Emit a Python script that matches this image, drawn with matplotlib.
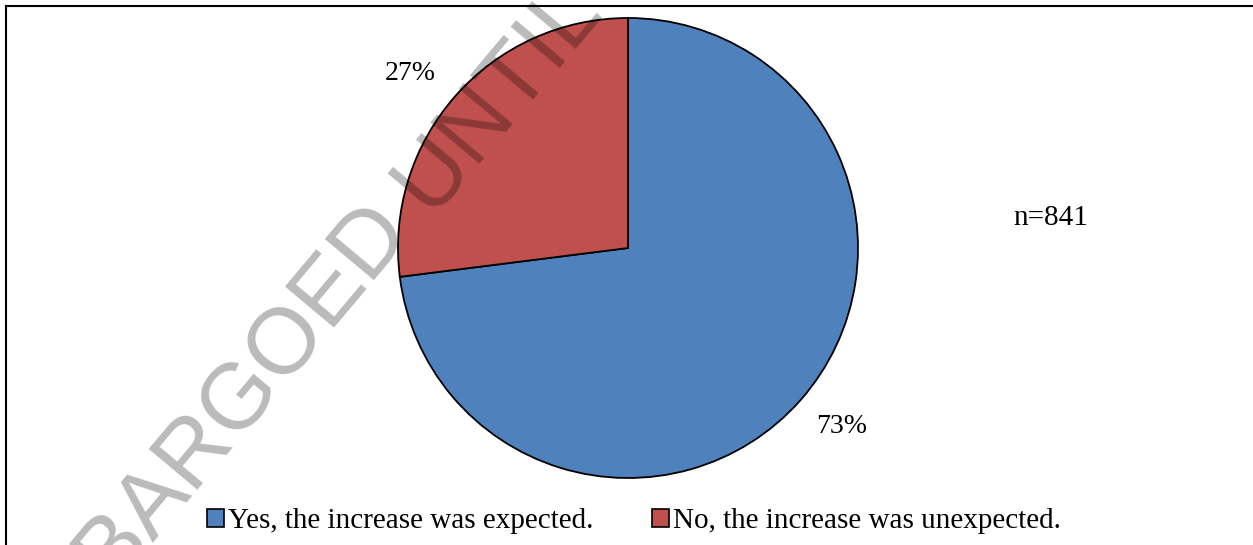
import matplotlib
matplotlib.use("Agg")
import matplotlib.pyplot as plt
from matplotlib.patches import Patch
from matplotlib.lines import Line2D

categories = ["Yes, the increase was expected.", "No, the increase was unexpected."]
values = [73, 27]
colors = ["#4F81BD", "#C0504D"]
note = "n=841"
watermark_left = "EMBARGOED"
watermark_right = "UNTIL"

plt.rcParams['font.family'] = ['Liberation Serif', 'DejaVu Serif']

W, H = 1253, 545
fig = plt.figure(figsize=(W / 100, H / 100), dpi=100)
fig.patch.set_facecolor("white")

# pie axes: center (628,248) px, radius 230 px
r = 230
cx, cy = 628, 248
ax = fig.add_axes([(cx - r) / W, (H - cy - r) / H, 2 * r / W, 2 * r / H])
wedges, _, autotexts = ax.pie(
    values, colors=colors, startangle=90, counterclock=False,
    autopct=lambda p: f"{p:.0f}%", pctdistance=1.21,
    wedgeprops=dict(edgecolor="black", linewidth=1.3),
    textprops=dict(fontsize=20, color="black"), radius=1.0)
# label placement as in the reference
autotexts[0].set_position((0.930, -0.774))
autotexts[1].set_position((-0.948, 0.757))
ax.set_xlim(-1, 1)
ax.set_ylim(-1, 1)
ax.set_aspect("equal")
ax.axis("off")

fig.text(1051 / W, 1 - 218 / H, note, fontsize=21, ha="center", va="center")

handles = [Patch(facecolor=c, edgecolor="black", linewidth=1.2) for c in colors]
fig.legend(handles, categories, loc="center", ncol=2, frameon=False,
           bbox_to_anchor=(634 / W, 1 - 521 / H), fontsize=21,
           handlelength=0.58, handleheight=0.58, handletextpad=0.15,
           columnspacing=2.0, borderaxespad=0)

# frame lines (left and top)
fig.add_artist(Line2D([5.5 / W, 5.5 / W], [0, 1 - 6 / H], transform=fig.transFigure,
                      color="black", linewidth=1.5))
fig.add_artist(Line2D([5.5 / W, 1], [1 - 6 / H, 1 - 6 / H], transform=fig.transFigure,
                      color="black", linewidth=1.5))

# watermark
ax_x, ax_y = 430 / W, 1 - 214 / H
for s, ha in [(watermark_left + " ", "right"), (watermark_right, "left")]:
    fig.text(ax_x, ax_y, s, fontsize=67, family="Liberation Sans", color="black",
             alpha=0.27, rotation=50, rotation_mode="anchor", ha=ha, va="baseline",
             zorder=10)

fig.savefig("out.png", dpi=100)
